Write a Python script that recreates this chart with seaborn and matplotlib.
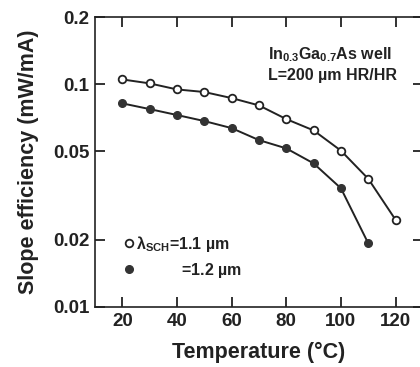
import numpy as np
import pandas as pd
import matplotlib
matplotlib.use("Agg")
import matplotlib.pyplot as plt
import seaborn as sns

# slope efficiency vs temperature
temp_11 = [20, 30, 40, 50, 60, 70, 80, 90, 100, 110, 120]
eff_11 = [0.105, 0.1008, 0.0947, 0.0922, 0.0866, 0.0803, 0.0697, 0.0620, 0.0503, 0.0376, 0.0246]
temp_12 = [20, 30, 40, 50, 60, 70, 80, 90, 100, 110]
eff_12 = [0.0820, 0.0773, 0.0727, 0.0683, 0.0635, 0.0561, 0.0515, 0.0441, 0.0341, 0.0193]

xticks = [20, 40, 60, 80, 100, 120]
yticks = [0.01, 0.02, 0.05, 0.1, 0.2]
ytick_labels = ["0.01", "0.02", "0.05", "0.1", "0.2"]

sns.set_style("ticks")
plt.rcParams["font.family"] = ["Liberation Sans", "DejaVu Sans"]
plt.rcParams["font.weight"] = "bold"
plt.rcParams["mathtext.fontset"] = "custom"
plt.rcParams["mathtext.rm"] = "Liberation Sans:bold"
plt.rcParams["mathtext.it"] = "Liberation Sans:bold"
plt.rcParams["mathtext.bf"] = "Liberation Sans:bold"
ink = "#222222"

fig = plt.figure(figsize=(4.2, 3.67), dpi=100)
ax = fig.add_axes([0.226, 0.1635, 0.781, 0.790])

sns.lineplot(x=temp_11, y=eff_11, ax=ax, color=ink, lw=1.4, marker="o", ms=5.5,
             mfc="white", mec=ink, mew=1.3)
sns.lineplot(x=temp_12, y=eff_12, ax=ax, color=ink, lw=1.4, marker="o", ms=5.5,
             mfc="#333333", mec="#333333", mew=1.0)

ax.set_yscale("log")
ax.set_xlim(10, 130)
ax.set_ylim(0.01, 0.2)
ax.set_xticks(xticks)
ax.set_xticklabels([str(t) for t in xticks])
ax.set_yticks(yticks)
ax.set_yticklabels(ytick_labels)
ax.minorticks_off()
ax.tick_params(direction="in", length=7, width=1.3, colors=ink, labelsize=13.5,
               top=True, right=True, pad=4)
for sp in ax.spines.values():
    sp.set_linewidth(1.2)
    sp.set_color(ink)

ax.set_xlabel("Temperature (°C)", fontsize=15.5, fontweight="bold", color=ink, labelpad=9)
ax.set_ylabel("Slope efficiency (mW/mA)", fontsize=15.5, fontweight="bold", color=ink, labelpad=10)

ax.text(0.527, 0.869, r"In$_{0.3}$Ga$_{0.7}$As well", transform=ax.transAxes,
        fontsize=11.5, fontweight="bold", color=ink, va="center", ha="left")
ax.text(0.527, 0.797, "L=200 µm HR/HR", transform=ax.transAxes,
        fontsize=11.5, fontweight="bold", color=ink, va="center", ha="left")

handles = ax.get_lines()[:2]
labels = [r"λ$_{SCH}$=1.1 µm", r"$\hspace{3.2}$=1.2 µm"]
leg = ax.legend(handles, labels, loc="center left", bbox_to_anchor=(0.06, 0.173),
                frameon=False, handlelength=0.0, handletextpad=0.45, labelspacing=0.45,
                prop={"size": 11.5, "weight": "bold"}, labelcolor=ink)

fig.savefig("out.png", dpi=100)
